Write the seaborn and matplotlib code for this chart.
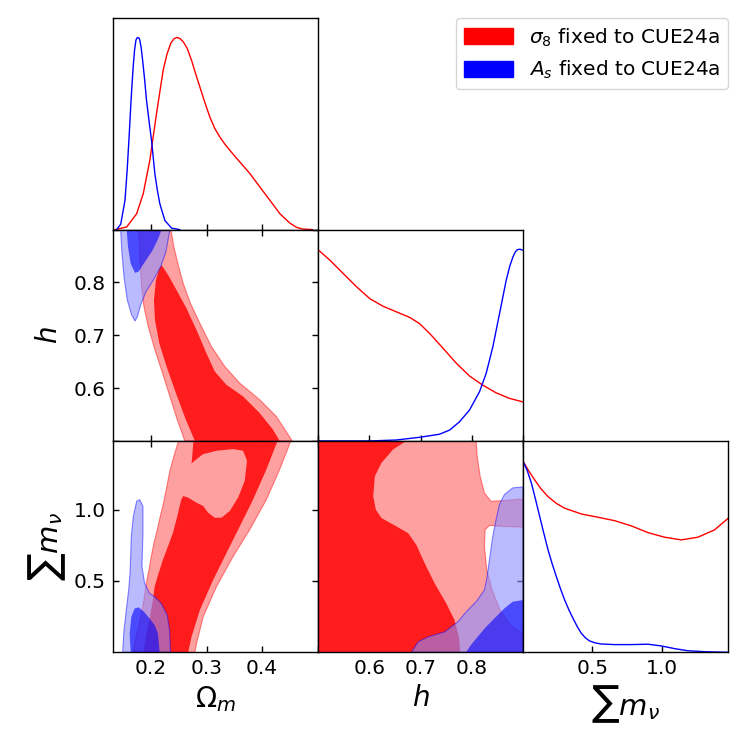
import numpy as np
import pandas as pd
import matplotlib
matplotlib.use("Agg")
import matplotlib.pyplot as plt
from matplotlib.patches import Patch
import seaborn as sns

sns.set_style("ticks")
plt.rcParams['font.family'] = ['DejaVu Sans']
plt.rcParams['mathtext.fontset'] = 'dejavusans'
for k in ['text.color', 'axes.labelcolor', 'xtick.color', 'ytick.color', 'axes.edgecolor']:
    plt.rcParams[k] = 'black'

# ---------------- axis ranges / ticks ----------------
om_lim = (0.1312, 0.5005)
h_lim = (0.5, 0.9)
mnu_lim = (0.0, 1.482)
om_ticks = [0.2, 0.3, 0.4]
om_ticklabels = ["0.2", "0.3", "0.4"]
h_ticks = [0.5, 0.6, 0.7, 0.8, 0.9]
h_ticklabels = ["", "0.6", "0.7", "0.8", ""]
mnu_ticks = [0.5, 1.0]
mnu_ticklabels = ["0.5", "1.0"]

# ---------------- 1D marginals ----------------
om_red_x = [0.1354, 0.1564, 0.1743, 0.1862, 0.198, 0.210, 0.222, 0.229, 0.236, 0.242, 0.247, 0.252,
            0.258, 0.265, 0.273, 0.280, 0.288, 0.297, 0.306, 0.315, 0.324, 0.333, 0.342, 0.351,
            0.360, 0.378, 0.396, 0.414, 0.432, 0.450, 0.462, 0.473, 0.491]
om_red_y = [0, 0.014, 0.083, 0.188, 0.361, 0.604, 0.83, 0.915, 0.972, 0.995, 1.0, 0.995,
            0.978, 0.945, 0.882, 0.815, 0.743, 0.662, 0.586, 0.526, 0.482, 0.445, 0.413, 0.382,
            0.352, 0.292, 0.222, 0.153, 0.083, 0.034, 0.012, 0.003, 0]
om_blue_x = [0.138, 0.1456, 0.1533, 0.1572, 0.161, 0.1645, 0.168, 0.1705, 0.173, 0.175, 0.1767,
             0.1785, 0.180, 0.1825, 0.185, 0.1885, 0.192, 0.1965, 0.201, 0.207, 0.2115, 0.216,
             0.225, 0.237, 0.252]
om_blue_y = [0, 0.028, 0.153, 0.31, 0.5, 0.69, 0.847, 0.935, 0.986, 0.998, 1.0,
             0.997, 0.986, 0.945, 0.882, 0.785, 0.674, 0.567, 0.465, 0.292, 0.205, 0.135,
             0.048, 0.008, 0]

h_red_x = [0.5, 0.5237, 0.5495, 0.5755, 0.601, 0.627, 0.653, 0.679, 0.698, 0.718, 0.744, 0.770,
           0.7955, 0.821, 0.847, 0.873, 0.9]
h_red_y = [0.996, 0.940, 0.871, 0.802, 0.741, 0.701, 0.672, 0.643, 0.611, 0.559, 0.482, 0.404,
           0.338, 0.291, 0.251, 0.222, 0.203]
h_blue_x = [0.5, 0.601, 0.653, 0.698, 0.737, 0.757, 0.776, 0.7955, 0.815, 0.828, 0.841, 0.854,
            0.867, 0.874, 0.880, 0.885, 0.889, 0.894, 0.9]
h_blue_y = [0, 0, 0.005, 0.019, 0.035, 0.057, 0.1, 0.161, 0.256, 0.352, 0.49, 0.663,
            0.836, 0.91, 0.957, 0.985, 0.996, 0.998, 0.992]

mnu_red_x = [0, 0.04, 0.0837, 0.13, 0.18, 0.24, 0.30, 0.42, 0.54, 0.661, 0.781, 0.901, 1.022,
             1.142, 1.262, 1.382, 1.482]
mnu_red_y = [0.993, 0.945, 0.897, 0.85, 0.81, 0.775, 0.75, 0.72, 0.703, 0.685, 0.658, 0.623, 0.599,
             0.585, 0.599, 0.637, 0.698]
mnu_blue_x = [0, 0.03, 0.06, 0.09, 0.12, 0.15, 0.18, 0.21, 0.24, 0.27, 0.30, 0.33, 0.36, 0.39,
              0.42, 0.45, 0.48, 0.52, 0.565, 0.661, 0.781, 0.901, 0.998, 1.094, 1.19, 1.31, 1.482]
mnu_blue_y = [0.993, 0.945, 0.88, 0.795, 0.706, 0.618, 0.533, 0.46, 0.394, 0.33, 0.272, 0.222,
              0.177, 0.135, 0.099, 0.075, 0.059, 0.049, 0.043, 0.04, 0.04, 0.042, 0.033, 0.019,
              0.008, 0.003, 0.0]

# ---------------- 2D contours: Omega_m vs h ----------------
omh_red_outer_om = [0.2359, 0.2413, 0.2485, 0.2580, 0.2712, 0.2880, 0.3089, 0.3329, 0.3598, 0.3957,
                    0.4256, 0.4543, 0.2610, 0.2473, 0.2341, 0.2209, 0.2072, 0.1952, 0.1874, 0.1832,
                    0.1803, 0.1779]
omh_red_outer_h = [0.9, 0.8673, 0.8358, 0.7981, 0.7604, 0.7226, 0.6786, 0.6409, 0.6094, 0.5780,
                   0.5465, 0.5, 0.5, 0.5403, 0.5843, 0.6283, 0.6723, 0.7164, 0.7541, 0.7918,
                   0.8421, 0.9]
omh_red_inner_om = [0.2192, 0.2311, 0.2461, 0.2640, 0.2820, 0.2999, 0.3149, 0.3358, 0.3658, 0.3957,
                    0.4196, 0.4316, 0.2790, 0.2628, 0.2449, 0.2281, 0.2150, 0.2072, 0.2054, 0.2090,
                    0.2144]
omh_red_inner_h = [0.8327, 0.8138, 0.7855, 0.7509, 0.7101, 0.6660, 0.6314, 0.6063, 0.5843, 0.5528,
                   0.5214, 0.5, 0.5, 0.5403, 0.5906, 0.6409, 0.6849, 0.7289, 0.7667, 0.8044,
                   0.8245]
omh_blue_outer_om = [0.1455, 0.1479, 0.1515, 0.1575, 0.1653, 0.1713, 0.1755, 0.1814, 0.1910, 0.2042,
                     0.2174, 0.2269, 0.2341]
omh_blue_outer_h = [0.9, 0.8547, 0.8107, 0.7667, 0.7384, 0.7270, 0.7352, 0.7572, 0.7824, 0.8044,
                    0.8296, 0.8579, 0.9]
omh_blue_inner_om = [0.1563, 0.1587, 0.1635, 0.1713, 0.1773, 0.1892, 0.2030, 0.2132, 0.2192]
omh_blue_inner_h = [0.9, 0.8673, 0.8358, 0.8182, 0.8201, 0.8390, 0.8610, 0.8830, 0.9]

# ---------------- 2D contours: Omega_m vs sum m_nu ----------------
omm_red_outer_om = [0.2503, 0.4525, 0.4316, 0.4077, 0.3777, 0.3478, 0.3179, 0.2940, 0.2820, 0.2790,
                    0.1677, 0.1731, 0.1803, 0.1874, 0.1916, 0.1964, 0.2006, 0.2054, 0.2114, 0.2168,
                    0.2221, 0.2281, 0.2341, 0.2413]
omm_red_outer_m = [1.49, 1.49, 1.2817, 1.0704, 0.8592, 0.6714, 0.4601, 0.2488, 0.0610, 0.0,
                   0.0, 0.1080, 0.2254, 0.3662, 0.4836, 0.5775, 0.6714, 0.7653, 0.8592, 0.9531,
                   1.0376, 1.1526, 1.2723, 1.3756]
omm_red_inner_om = [0.2766, 0.4286, 0.4077, 0.3837, 0.3598, 0.3358, 0.3119, 0.2880, 0.2730, 0.2670,
                    0.1862, 0.1922, 0.1982, 0.2036, 0.2066, 0.2138, 0.2215, 0.2305, 0.2395, 0.2473,
                    0.2545, 0.2580, 0.2670, 0.2820, 0.2940, 0.3029, 0.3149, 0.3269, 0.3418, 0.3568,
                    0.3688, 0.3729, 0.3658, 0.3478, 0.3179, 0.2940, 0.2820, 0.2730, 0.2748]
omm_red_inner_m = [1.49, 1.49, 1.2817, 1.0704, 0.8826, 0.6948, 0.5070, 0.2958, 0.1080, 0.0,
                   0.0, 0.1315, 0.2488, 0.3662, 0.4601, 0.5540, 0.6479, 0.7418, 0.8357, 0.9531,
                   1.0704, 1.0962, 1.0845, 1.0493, 1.0258, 0.9789, 0.9437, 0.9437, 0.9906, 1.0845,
                   1.2019, 1.3427, 1.4131, 1.4249, 1.4131, 1.3897, 1.3545, 1.3239, 1.3991]
omm_blue_outer_om = [0.1797, 0.1856, 0.1856, 0.1838, 0.1886, 0.1976, 0.2066, 0.2186, 0.2293, 0.2335,
                     0.2353, 0.1491, 0.1515, 0.1563, 0.1599, 0.1623, 0.1635, 0.1647, 0.1683, 0.1743]
omm_blue_outer_m = [1.0704, 1.0235, 0.8357, 0.6009, 0.4836, 0.4131, 0.3897, 0.3427, 0.2606, 0.1549,
                    0.0, 0.0, 0.1549, 0.3192, 0.4366, 0.5540, 0.6714, 0.8122, 0.9531, 1.0587]
omm_blue_inner_om = [0.1635, 0.1617, 0.1647, 0.1707, 0.1779, 0.1874, 0.1976, 0.2066, 0.2126, 0.2156]
omm_blue_inner_m = [0.0, 0.1315, 0.2488, 0.3075, 0.3146, 0.2840, 0.2371, 0.1901, 0.1315, 0.0]

# ---------------- 2D contours: h vs sum m_nu ----------------
hm_red_outer_h = [0.5, 0.8084, 0.8104, 0.8162, 0.8246, 0.8375, 0.8602, 0.9, 0.9, 0.8602, 0.8343,
                  0.8259, 0.8246, 0.8291, 0.8395, 0.8550, 0.8764, 0.9, 0.9, 0.5]
hm_red_outer_m = [1.49, 1.49, 1.3756, 1.2347, 1.1174, 1.0587, 1.0634, 1.0751, 0.8779, 0.8826, 0.8897,
                  0.8592, 0.7418, 0.5775, 0.4366, 0.2958, 0.1831, 0.1315, 0.0, 0.0]
hm_red_inner_h = [0.5, 0.6757, 0.6466, 0.6239, 0.6110, 0.6078, 0.6129, 0.6239, 0.6531, 0.6757,
                  0.6919, 0.7081, 0.7275, 0.7502, 0.7663, 0.7748, 0.7773, 0.5]
hm_red_inner_m = [1.49, 1.49, 1.4225, 1.3286, 1.2347, 1.0939, 1.0, 0.9413, 0.8826, 0.8357,
                  0.7535, 0.6244, 0.4836, 0.3427, 0.2254, 0.1080, 0.0, 0.0]
hm_blue_outer_h = [0.9, 0.8796, 0.8634, 0.8537, 0.8472, 0.8408, 0.8343, 0.8298, 0.8246, 0.8084,
                   0.7890, 0.7728, 0.7469, 0.7146, 0.6951, 0.6822, 0.9]
hm_blue_outer_m = [1.1596, 1.1526, 1.1056, 1.0352, 0.9296, 0.8122, 0.6479, 0.5305, 0.4366, 0.3545,
                   0.2840, 0.2136, 0.1432, 0.1080, 0.0728, 0.0, 0.0]
hm_blue_inner_h = [0.9, 0.8796, 0.8634, 0.8472, 0.8278, 0.8084, 0.7955, 0.7890, 0.9]
hm_blue_inner_m = [0.3662, 0.3545, 0.3075, 0.2488, 0.1784, 0.0962, 0.0376, 0.0, 0.0]

legend_labels = [r"$\sigma_8$ fixed to CUE24a", r"$A_s$ fixed to CUE24a"]

# ---------------- styles ----------------
RED_OUT = "#ffa0a0"
RED_IN = "#ff1c1c"
BLUE_OUT = (0.55, 0.55, 1.0, 0.6)
BLUE_IN = (0.0, 0.0, 1.0, 0.6)
TICK_FS = 14.5
LABEL_FS = 20

fig, axes = plt.subplots(3, 3, figsize=(7.47, 7.47), dpi=100)
fig.subplots_adjust(left=0.1509, right=0.975, top=0.9755, bottom=0.1268, wspace=0, hspace=0)
for (i, j) in [(0, 1), (0, 2), (1, 2)]:
    axes[i, j].set_visible(False)


def style_2d(ax):
    ax.tick_params(direction="in", top=True, right=True, length=4, width=1,
                   labelsize=TICK_FS, pad=5, color="black", labelcolor="black")
    for s in ax.spines.values():
        s.set_linewidth(1.0)
        s.set_color("black")
        s.set_zorder(5)


def style_1d(ax):
    ax.tick_params(axis="x", direction="in", top=False, bottom=True, length=4, width=1,
                   labelsize=TICK_FS, pad=5, color="black", labelcolor="black")
    ax.tick_params(axis="y", left=False, right=False, labelleft=False)
    ax.set_ylim(0, 1.1)
    ax.set_ylabel("")
    for s in ax.spines.values():
        s.set_visible(True)
        s.set_linewidth(1.0)
        s.set_color("black")


def contour(ax, xo, yo, xi, yi, kind):
    if kind == "red":
        ax.fill(xo, yo, facecolor=RED_OUT, edgecolor=(1, 0, 0, 0.45), lw=0.8, zorder=1)
        ax.fill(xi, yi, facecolor=RED_IN, edgecolor="none", lw=0, zorder=1.1)
    else:
        ax.fill(xo, yo, facecolor=BLUE_OUT, edgecolor=(0, 0, 1, 0.45), lw=0.8, zorder=2)
        ax.fill(xi, yi, facecolor=BLUE_IN, edgecolor="none", lw=0, zorder=2.1)


def line1d(ax, x, y, color):
    df = pd.DataFrame({"x": x, "y": y})
    sns.lineplot(data=df, x="x", y="y", ax=ax, color=color, lw=1.0, sort=False, estimator=None)


# Row 0: Omega_m marginal
ax = axes[0, 0]
line1d(ax, om_red_x, om_red_y, "red")
line1d(ax, om_blue_x, om_blue_y, "blue")
ax.set_xlim(*om_lim)
ax.set_xticks(om_ticks)
ax.set_xticklabels([])
ax.set_xlabel("")
style_1d(ax)

# Row 1: h vs Omega_m
ax = axes[1, 0]
contour(ax, omh_red_outer_om, omh_red_outer_h, omh_red_inner_om, omh_red_inner_h, "red")
contour(ax, omh_blue_outer_om, omh_blue_outer_h, omh_blue_inner_om, omh_blue_inner_h, "blue")
ax.set_xlim(*om_lim)
ax.set_ylim(*h_lim)
ax.set_xticks(om_ticks)
ax.set_xticklabels([])
ax.set_yticks(h_ticks)
ax.set_yticklabels(h_ticklabels)
ax.set_ylabel(r"$h$", fontsize=LABEL_FS)
style_2d(ax)

# Row 1: h marginal
ax = axes[1, 1]
line1d(ax, h_red_x, h_red_y, "red")
line1d(ax, h_blue_x, h_blue_y, "blue")
ax.set_xlim(*h_lim)
ax.set_xticks(h_ticks)
ax.set_xticklabels([])
ax.set_xlabel("")
style_1d(ax)

# Row 2: sum m_nu vs Omega_m
ax = axes[2, 0]
contour(ax, omm_red_outer_om, omm_red_outer_m, omm_red_inner_om, omm_red_inner_m, "red")
contour(ax, omm_blue_outer_om, omm_blue_outer_m, omm_blue_inner_om, omm_blue_inner_m, "blue")
ax.set_xlim(*om_lim)
ax.set_ylim(*mnu_lim)
ax.set_xticks(om_ticks)
ax.set_xticklabels(om_ticklabels)
ax.set_yticks(mnu_ticks)
ax.set_yticklabels(mnu_ticklabels)
ax.set_xlabel(r"$\Omega_m$", fontsize=LABEL_FS)
ax.set_ylabel(r"$\sum m_\nu$", fontsize=21)
style_2d(ax)

# Row 2: sum m_nu vs h
ax = axes[2, 1]
contour(ax, hm_red_outer_h, hm_red_outer_m, hm_red_inner_h, hm_red_inner_m, "red")
contour(ax, hm_blue_outer_h, hm_blue_outer_m, hm_blue_inner_h, hm_blue_inner_m, "blue")
ax.set_xlim(*h_lim)
ax.set_ylim(*mnu_lim)
ax.set_xticks(h_ticks)
ax.set_xticklabels(h_ticklabels)
ax.set_yticks(mnu_ticks)
ax.set_yticklabels([])
ax.set_xlabel(r"$h$", fontsize=LABEL_FS)
style_2d(ax)

# Row 2: sum m_nu marginal
ax = axes[2, 2]
line1d(ax, mnu_red_x, mnu_red_y, "red")
line1d(ax, mnu_blue_x, mnu_blue_y, "blue")
ax.set_xlim(*mnu_lim)
ax.set_xticks(mnu_ticks)
ax.set_xticklabels(mnu_ticklabels)
ax.set_xlabel(r"$\sum m_\nu$", fontsize=21)
style_1d(ax)

# y label placement
axes[1, 0].yaxis.set_label_coords(-0.24, 0.5)
axes[2, 0].yaxis.set_label_coords(-0.22, 0.5)

handles = [Patch(facecolor="red", edgecolor="red"), Patch(facecolor="blue", edgecolor="blue")]
fig.legend(handles=handles, labels=legend_labels, loc="upper right",
           bbox_to_anchor=(0.975, 0.9755), borderaxespad=0, fontsize=14.5,
           handlelength=2.4, handleheight=0.85, handletextpad=0.8, frameon=True)

fig.savefig("out.png", dpi=100)
